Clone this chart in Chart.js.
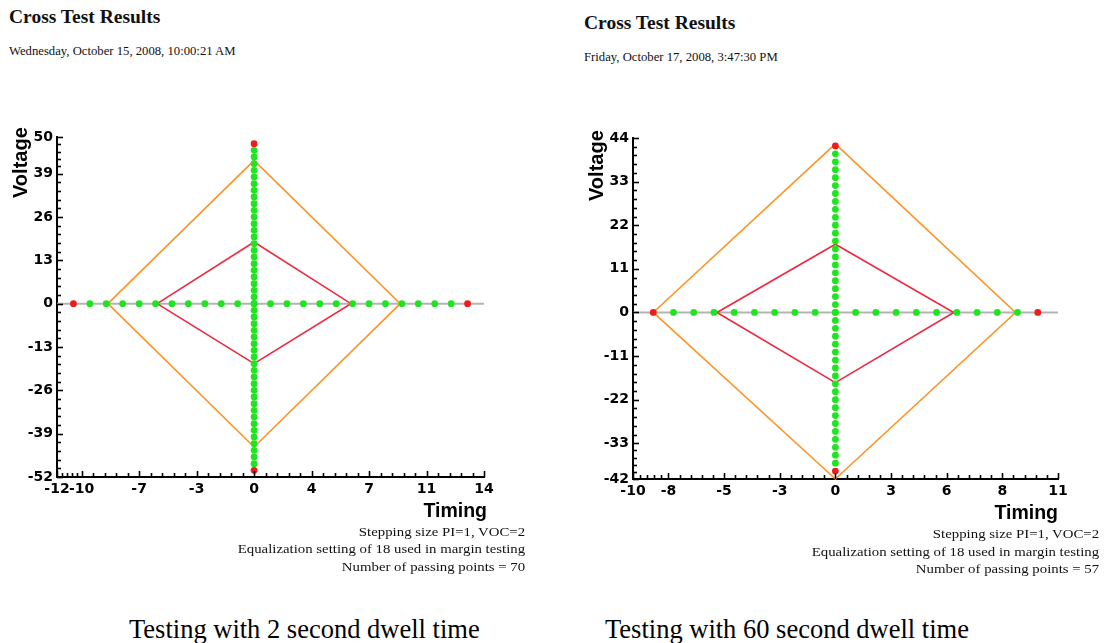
<!DOCTYPE html>
<html><head><meta charset="utf-8">
<script src="https://cdn.jsdelivr.net/npm/chart.js@4.4.1/dist/chart.umd.min.js"></script>
<style>
html,body{margin:0;padding:0;background:#fff}
body{width:1104px;height:643px;overflow:hidden;position:relative;font-family:"Liberation Serif","Times New Roman",serif;color:#111}
.abs{position:absolute;white-space:nowrap}
.title{font-weight:bold;font-size:19.5px;line-height:19.5px}
.date{font-size:12.7px;line-height:12.7px}
.note{font-size:13px;line-height:17.7px;text-align:right;transform:scaleX(1.14);transform-origin:right top}
.axt{font-family:"Liberation Sans",Arial,sans-serif;font-weight:bold;color:#000}
.cap{font-size:26.5px;line-height:26.5px;color:#000}
.box{position:absolute;width:500px;height:420px}
</style></head><body>

<div class="abs title" style="left:9px;top:6.7px">Cross Test Results</div>
<div class="abs date" style="left:9px;top:44.8px">Wednesday, October 15, 2008, 10:00:21 AM</div>
<div class="abs title" style="left:584px;top:13.3px">Cross Test Results</div>
<div class="abs date" style="left:584px;top:51px">Friday, October 17, 2008, 3:47:30 PM</div>

<div class="box" style="left:0;top:110px"><canvas id="c1" width="500" height="420"></canvas></div>
<div class="box" style="left:575px;top:110px"><canvas id="c2" width="500" height="420"></canvas></div>

<div class="abs axt" style="left:10px;top:198px;font-size:20px;line-height:20px;transform:rotate(-90deg);transform-origin:left top">Voltage</div>
<div class="abs axt" style="left:586px;top:201px;font-size:20px;line-height:20px;transform:rotate(-90deg);transform-origin:left top">Voltage</div>
<div class="abs axt" style="right:617px;top:500.6px;font-size:19.5px;line-height:19.5px">Timing</div>
<div class="abs axt" style="right:46px;top:503.2px;font-size:19.5px;line-height:19.5px">Timing</div>

<div class="abs note" style="right:579px;top:522.6px">Stepping size PI=1, VOC=2<br>Equalization setting of 18 used in margin testing<br>Number of passing points = 70</div>
<div class="abs note" style="right:5px;top:525px">Stepping size PI=1, VOC=2<br>Equalization setting of 18 used in margin testing<br>Number of passing points = 57</div>

<div class="abs cap" style="left:129px;top:615.8px">Testing with 2 second dwell time</div>
<div class="abs cap" style="left:605px;top:615.8px">Testing with 60 second dwell time</div>

<script>
// ---------- Left chart: 2 second dwell time ----------
const L_passTimingX = [-10,-9,-8,-7,-6,-5,-4,-3,-2,-1,0,1,2,3,4,5,6,7,8,9,10,11,12];
const L_failTimingX = [-11, 13];
const L_passVoltageY = [46,44,42,40,38,36,34,32,30,28,26,24,22,20,18,16,14,12,10,8,6,4,2,0,-2,-4,-6,-8,-10,-12,-14,-16,-18,-20,-22,-24,-26,-28,-30,-32,-34,-36,-38,-40,-42,-44,-46,-48];
const L_failVoltageY = [48, -50];
const L_outerX = [-8.9, 0, 8.9, 0, -8.9];
const L_outerY = [0, 43, 0, -43, 0];
const L_innerX = [-5.9, 0, 5.9, 0, -5.9];
const L_innerY = [0, 18.5, 0, -18, 0];
const L_zeroLineX = [-12, 14];
const L_xMajorTicks = [-12, -10.5, -7, -3.5, 0, 3.5, 7, 10.5, 14];
const L_yMajorTicks = [-52, -39, -26, -13, 0, 13, 26, 39, 50];

// ---------- Right chart: 60 second dwell time ----------
const R_passTimingX = [-8,-7,-6,-5,-4,-3,-2,-1,0,1,2,3,4,5,6,7,8,9];
const R_failTimingX = [-9, 10];
const R_passVoltageY = [40,38,36,34,32,30,28,26,24,22,20,18,16,14,12,10,8,6,4,2,0,-2,-4,-6,-8,-10,-12,-14,-16,-18,-20,-22,-24,-26,-28,-30,-32,-34,-36,-38];
const R_failVoltageY = [42, -40];
const R_outerX = [-9, 0, 8.9, 0, -9];
const R_outerY = [0, 42.5, 0, -42, 0];
const R_innerX = [-5.85, 0, 5.85, 0, -5.85];
const R_innerY = [0, 17.2, 0, -17.7, 0];
const R_zeroLineX = [-10, 11];
const R_xMajorTicks = [-10, -8.25, -5.5, -2.75, 0, 2.75, 5.5, 8.25, 11];
const R_yMajorTicks = [-42, -33, -22, -11, 0, 11, 22, 33, 44];

const GREEN = '#1ee61e', RED_DOT = '#ee1c1c', ORANGE = '#ff9224', RED_LINE = '#ee2840', GREY = '#b4b4b4';

function withMinor(major){
  const t = [];
  for (let i = 0; i < major.length - 1; i++){
    const a = major[i], b = major[i+1];
    for (let k = 0; k < 5; k++) t.push({value: a + (b - a) * k / 5, isMajor: k === 0});
  }
  t.push({value: major[major.length - 1], isMajor: true});
  return t;
}

const inwardTicks = {
  id: 'inwardTicks',
  afterDraw(chart){
    const ctx = chart.ctx, a = chart.chartArea, xs = chart.scales.x, ys = chart.scales.y;
    ctx.save();
    ctx.strokeStyle = '#000';
    ctx.lineWidth = 1.6;
    xs.ticks.forEach(t => {
      const p = Math.round(xs.getPixelForValue(t.value)) + 0.5;
      const len = t.isMajor ? 6 : 4;
      ctx.beginPath(); ctx.moveTo(p, a.bottom); ctx.lineTo(p, a.bottom - len); ctx.stroke();
    });
    ys.ticks.forEach(t => {
      const p = Math.round(ys.getPixelForValue(t.value)) + 0.5;
      const len = t.isMajor ? 6 : 4;
      ctx.beginPath(); ctx.moveTo(a.left, p); ctx.lineTo(a.left + len, p); ctx.stroke();
    });
    ctx.restore();
  }
};

function makeChart(id, d){
  const pts = (xs, ys) => xs.map((x, i) => ({x: x, y: ys[i]}));
  const green = d.passX.map(x => ({x: x, y: 0})).concat(d.passY.map(y => ({x: 0, y: y})));
  const red = d.failX.map(x => ({x: x, y: 0})).concat(d.failY.map(y => ({x: 0, y: y})));
  const tickFont = {family: "'DejaVu Sans', sans-serif", weight: 'bold', size: 14};
  const label = (v, i, ticks) => ticks[i].isMajor ? String(Math.round(v)) : '';
  new Chart(document.getElementById(id), {
    type: 'scatter',
    data: {datasets: [
      {data: red, backgroundColor: RED_DOT, pointRadius: 3.4, pointBorderWidth: 0, order: 0, clip: false},
      {data: green, backgroundColor: GREEN, pointRadius: 3.4, pointBorderWidth: 0, order: 1, clip: false},
      {data: pts(d.outerX, d.outerY), showLine: true, borderColor: ORANGE, borderWidth: 1.6, pointRadius: 0, order: 2, clip: false},
      {data: pts(d.innerX, d.innerY), showLine: true, borderColor: RED_LINE, borderWidth: 1.6, pointRadius: 0, order: 2, clip: false},
      {data: d.zeroX.map(x => ({x: x, y: 0})), showLine: true, borderColor: GREY, borderWidth: 2, pointRadius: 0, order: 3}
    ]},
    options: {
      responsive: false, animation: false, devicePixelRatio: 1,
      layout: {padding: d.pad},
      plugins: {legend: {display: false}, tooltip: {enabled: false}},
      scales: {
        x: {
          type: 'linear', min: d.xMajor[0], max: d.xMajor[d.xMajor.length - 1],
          afterBuildTicks: s => { s.ticks = withMinor(d.xMajor); },
          afterFit: s => { s.height = d.xh; },
          grid: {display: true, drawOnChartArea: false, drawTicks: false},
          border: {display: true, color: '#000', width: 2},
          ticks: {autoSkip: false, maxRotation: 0, minRotation: 0, padding: 4, color: '#000', font: tickFont, callback: label}
        },
        y: {
          type: 'linear', min: d.yMajor[0], max: d.yMajor[d.yMajor.length - 1],
          afterBuildTicks: s => { s.ticks = withMinor(d.yMajor); },
          afterFit: s => { s.width = d.yw; },
          grid: {display: true, drawOnChartArea: false, drawTicks: false},
          border: {display: true, color: '#000', width: 2},
          ticks: {autoSkip: false, padding: 4, color: '#000', font: tickFont, callback: label}
        }
      }
    },
    plugins: [inwardTicks]
  });
}

makeChart('c1', {
  passX: L_passTimingX, failX: L_failTimingX, passY: L_passVoltageY, failY: L_failVoltageY,
  outerX: L_outerX, outerY: L_outerY, innerX: L_innerX, innerY: L_innerY, zeroX: L_zeroLineX,
  xMajor: L_xMajorTicks, yMajor: L_yMajorTicks,
  pad: {top: 27, right: 16, left: 0, bottom: 0}, yw: 57, xh: 53
});
makeChart('c2', {
  passX: R_passTimingX, failX: R_failTimingX, passY: R_passVoltageY, failY: R_failVoltageY,
  outerX: R_outerX, outerY: R_outerY, innerX: R_innerX, innerY: R_innerY, zeroX: R_zeroLineX,
  xMajor: R_xMajorTicks, yMajor: R_yMajorTicks,
  pad: {top: 28, right: 17, left: 0, bottom: 0}, yw: 58, xh: 51
});
</script>
</body></html>
